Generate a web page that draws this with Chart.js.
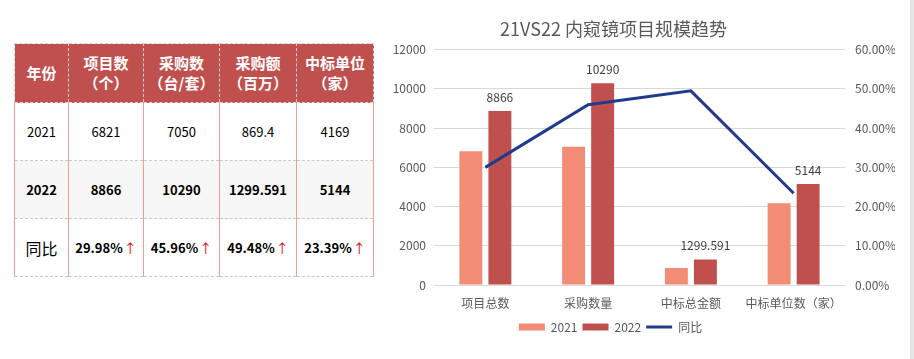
<!DOCTYPE html>
<html lang="zh">
<head>
<meta charset="utf-8">
<title>21VS22 内窥镜项目规模趋势</title>
<script src="https://cdn.jsdelivr.net/npm/chart.js@4.4.1/dist/chart.umd.min.js"></script>
<style>
    html, body { margin: 0; padding: 0; background: #fff; }
    body { width: 914px; height: 359px; position: relative; overflow: hidden; font-family: "Noto Sans CJK SC", sans-serif; }
    #table_box { position: absolute; left: 14px; top: 43px; }
    table { border-collapse: collapse; table-layout: fixed; }
    th { background: #C0504D; color: #fff; font-weight: bold; font-size: 15px; line-height: 20px; border: 1px dashed #D4D4D4; height: 58px; padding: 0; }
    td { border-left: 1px solid #EB9C9C; border-right: 1px solid #EB9C9C; border-top: 1px dashed #C9C9C9; border-bottom: 1px dashed #C9C9C9; text-align: center; font-size: 13px; color: #000; height: 57px; padding: 0; }
    tr.bold td { font-weight: bold; background: #F7F7F7; }
    tr.yoy td { font-weight: bold; }
    tr.yoy td.first { font-weight: normal; font-size: 16px; }
    .arrow { color: #E00000; font-weight: normal; margin-left: 1px; }
    #chart_box { position: absolute; left: 380px; top: 0; width: 530px; height: 359px; }
    #edge { position: absolute; left: 910px; top: 0; width: 4px; height: 359px; background: #E6E6E6; }
</style>
</head>
<body>
<div id="table_box"><table id="data_table"></table></div>
<div id="chart_box"><canvas id="chart_1" width="530" height="359"></canvas></div>
<div id="edge"></div>
<script>
const categories = ['项目总数', '采购数量', '中标总金额', '中标单位数（家）'];
const values2021 = [6821, 7050, 869.4, 4169];
const values2022 = [8866, 10290, 1299.591, 5144];
const yoyPercent = [29.98, 45.96, 49.48, 23.39];
const tableHeaders = [['年份'], ['项目数', '（个）'], ['采购数', '（台/套）'], ['采购额', '（百万）'], ['中标单位', '（家）']];
const columnWidths = [54, 75, 76, 77, 77];

document.addEventListener("DOMContentLoaded", function () {

    // left table
    const table = document.getElementById('data_table');
    let html = '<colgroup>' + columnWidths.map(w => '<col style="width:' + w + 'px">').join('') + '</colgroup>';
    html += '<tr>' + tableHeaders.map(h => '<th>' + h.join('<br>') + '</th>').join('') + '</tr>';
    html += '<tr><td class="first">2021</td>' + values2021.map(v => '<td>' + v + '</td>').join('') + '</tr>';
    html += '<tr class="bold"><td class="first">2022</td>' + values2022.map(v => '<td>' + v + '</td>').join('') + '</tr>';
    html += '<tr class="yoy"><td class="first">同比</td>' + yoyPercent.map(v => '<td>' + v.toFixed(2) + '%<span class="arrow">↑</span></td>').join('') + '</tr>';
    table.innerHTML = html;

    const font = '"Noto Sans CJK SC", sans-serif';
    const grey = '#595959';

    const barLabels = {
        id: 'barLabels',
        afterDatasetsDraw(chart) {
            const meta = chart.getDatasetMeta(1);
            const c = chart.ctx;
            c.save();
            c.font = '12px ' + font;
            c.fillStyle = '#404040';
            c.textAlign = 'center';
            c.textBaseline = 'middle';
            meta.data.forEach((bar, i) => c.fillText(String(values2022[i]), bar.x, bar.y - 14));
            c.restore();
        }
    };

    // excel puts title and legend a bit left of centre
    const boxShift = {
        id: 'boxShift',
        afterLayout(chart) {
            chart.legend.left -= 27;
            chart.legend.right -= 27;
            chart.titleBlock.left -= 24;
            chart.titleBlock.right -= 24;
        }
    };

    new Chart(document.getElementById('chart_1'), {
        type: 'bar',
        data: {
            labels: categories,
            datasets: [
                {
                    label: '2021',
                    data: values2021,
                    backgroundColor: '#F28C74',
                    pointStyle: 'rect',
                    categoryPercentage: 0.565,
                    barPercentage: 0.79,
                    yAxisID: 'y',
                    order: 1
                },
                {
                    label: '2022',
                    data: values2022,
                    backgroundColor: '#C0504D',
                    pointStyle: 'rect',
                    categoryPercentage: 0.565,
                    barPercentage: 0.79,
                    yAxisID: 'y',
                    order: 1
                },
                {
                    type: 'line',
                    label: '同比',
                    data: yoyPercent,
                    borderColor: '#213B8C',
                    borderWidth: 3,
                    pointRadius: 0,
                    pointStyle: 'line',
                    pointBorderColor: '#213B8C',
                    pointBorderWidth: 3,
                    tension: 0,
                    fill: false,
                    yAxisID: 'y1',
                    order: 0
                }
            ]
        },
        options: {
            responsive: false,
            animation: false,
            layout: { padding: { top: 16, right: 15, bottom: 16, left: 0 } },
            plugins: {
                title: {
                    display: true,
                    text: '21VS22 内窥镜项目规模趋势',
                    color: grey,
                    font: { size: 18, weight: 'normal', family: font },
                    padding: { top: 2, bottom: 10 }
                },
                legend: {
                    position: 'bottom',
                    labels: {
                        usePointStyle: true,
                        pointStyleWidth: 26,
                        boxHeight: 7,
                        padding: 5,
                        color: grey,
                        font: { size: 12, family: font },
                        sort: (a, b) => a.datasetIndex - b.datasetIndex
                    }
                },
                tooltip: { enabled: false }
            },
            scales: {
                x: {
                    grid: { display: false },
                    border: { display: false },
                    ticks: { color: grey, font: { size: 12, family: font }, padding: 3, maxRotation: 0 },
                    afterFit: s => { s.height = 31; }
                },
                y: {
                    position: 'left',
                    min: 0,
                    max: 12000,
                    ticks: { stepSize: 2000, color: grey, font: { size: 12, family: font }, padding: 8, callback: v => String(v) },
                    grid: { color: '#D9D9D9', drawTicks: false },
                    border: { display: false },
                    afterFit: s => { s.width = 54; }
                },
                y1: {
                    position: 'right',
                    min: 0,
                    max: 60,
                    ticks: { stepSize: 10, color: grey, font: { size: 12, family: font }, padding: 10, callback: v => v.toFixed(2) + '%' },
                    grid: { display: false, drawTicks: false },
                    border: { display: false },
                    afterFit: s => { s.width = 50; }
                }
            }
        },
        plugins: [barLabels, boxShift]
    });
});
</script>
</body>
</html>
